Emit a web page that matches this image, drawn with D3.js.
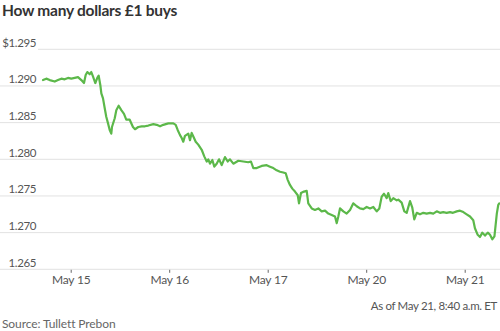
<!DOCTYPE html>
<html>
<head>
<meta charset="utf-8">
<script src="https://cdn.jsdelivr.net/npm/d3@7"></script>
<style>
  html, body { margin: 0; padding: 0; background: #fff; }
  svg { display: block; font-family: Lato, "Noto Sans", sans-serif; }
</style>
</head>
<body>
<svg id="chart" width="500" height="331"></svg>
<script>
// Trading-day index (0 = May 15, 1 = May 16, 2 = May 17, 3 = May 20, 4 = May 21)
const dayLabels = ["May 15", "May 16", "May 17", "May 20", "May 21"];
const yTicks = [1.265, 1.270, 1.275, 1.280, 1.285, 1.290, 1.295];

const times = [
  -0.281,-0.248,-0.213,-0.162,-0.129,-0.095,-0.061,-0.027,0.006,0.041,0.074,0.108,0.135,0.152,0.169,0.193,0.209,0.226,0.250,0.270,
  0.284,0.301,0.311,0.328,0.345,0.361,0.379,0.396,0.412,0.419,0.447,0.463,0.487,0.514,0.541,0.564,0.599,0.632,0.653,0.686,
  0.721,0.754,0.788,0.839,0.873,0.907,0.940,0.991,1.042,1.066,1.086,1.110,1.127,1.143,1.160,1.194,1.211,1.228,1.245,1.269,
  1.295,1.330,1.356,1.381,1.397,1.414,1.438,1.458,1.482,1.506,1.533,1.566,1.594,1.617,1.651,1.702,1.752,1.803,1.830,1.854,
  1.888,1.939,1.990,2.023,2.057,2.091,2.125,2.158,2.183,2.203,2.226,2.250,2.277,2.305,2.318,2.338,2.368,2.396,2.412,2.447,
  2.480,2.514,2.548,2.582,2.615,2.650,2.683,2.701,2.717,2.734,2.768,2.802,2.836,2.869,2.904,2.937,2.971,3.005,3.039,3.072,
  3.107,3.133,3.157,3.181,3.208,3.224,3.249,3.275,3.310,3.326,3.360,3.387,3.411,3.445,3.468,3.488,3.513,3.546,3.580,3.614,
  3.648,3.681,3.716,3.749,3.782,3.817,3.851,3.881,3.919,3.952,3.986,4.020,4.054,4.087,4.104,4.132,4.155,4.179,4.206,4.234,
  4.257,4.280,4.302,4.326,4.341,4.351
];
const rates = [
  1.2908,1.2910,1.2908,1.2906,1.2908,1.2910,1.2909,1.2911,1.2910,1.2911,1.2912,1.2908,1.2904,1.2915,1.2919,1.2916,1.2919,1.2913,1.2904,1.2911,
  1.2914,1.2901,1.2890,1.2883,1.2870,1.2858,1.2849,1.2840,1.2835,1.2844,1.2856,1.2867,1.2873,1.2867,1.2862,1.2854,1.2854,1.2844,1.2841,1.2844,
  1.2845,1.2845,1.2846,1.2848,1.2847,1.2845,1.2847,1.2849,1.2849,1.2847,1.2840,1.2833,1.2829,1.2824,1.2832,1.2835,1.2826,1.2836,1.2831,1.2824,
  1.2820,1.2813,1.2804,1.2797,1.2800,1.2794,1.2799,1.2790,1.2794,1.2800,1.2792,1.2803,1.2797,1.2800,1.2794,1.2798,1.2797,1.2796,1.2797,1.2788,
  1.2788,1.2791,1.2792,1.2790,1.2788,1.2785,1.2783,1.2782,1.2781,1.2772,1.2765,1.2760,1.2756,1.2751,1.2740,1.2754,1.2756,1.2757,1.2740,1.2733,
  1.2731,1.2733,1.2729,1.2730,1.2726,1.2724,1.2722,1.2713,1.2722,1.2733,1.2729,1.2726,1.2731,1.2740,1.2736,1.2733,1.2732,1.2735,1.2733,1.2735,
  1.2729,1.2733,1.2749,1.2753,1.2747,1.2754,1.2743,1.2747,1.2744,1.2745,1.2741,1.2729,1.2727,1.2743,1.2734,1.2718,1.2727,1.2725,1.2727,1.2726,
  1.2727,1.2726,1.2729,1.2727,1.2728,1.2727,1.2728,1.2727,1.2729,1.2730,1.2728,1.2725,1.2722,1.2717,1.2706,1.2697,1.2694,1.2700,1.2696,1.2700,
  1.2697,1.2691,1.2695,1.2726,1.2738,1.2740
];

const svg = d3.select("#chart");
const W = 500, H = 331;

const x = d3.scaleLinear().domain([0, 4]).range([70.7, 464.7]);
const y = d3.scaleLinear().domain([1.265, 1.295]).range([269.3, 49.3]);

// Title
svg.append("text")
  .attr("x", 2).attr("y", 16)
  .attr("font-size", 15.5).attr("font-weight", 700)
  .attr("letter-spacing", -0.25)
  .attr("fill", "#333")
  .text("How many dollars £1 buys");

// Gridlines + y labels
const grid = svg.append("g");
yTicks.forEach((v, i) => {
  const top = i === yTicks.length - 1;
  grid.append("line")
    .attr("x1", top ? 38 : 0).attr("x2", W)
    .attr("y1", y(v)).attr("y2", y(v))
    .attr("stroke", "#e2e2e2").attr("stroke-width", 1);
  grid.append("text")
    .attr("x", 36).attr("y", y(v) - 2.5)
    .attr("text-anchor", "end")
    .attr("font-size", 11.5).attr("letter-spacing", -0.4).attr("fill", "#555")
    .text(top ? "$" + d3.format(".3f")(v) : d3.format(".3f")(v));
});

// X axis
const xAxis = d3.axisBottom(x)
  .tickValues([0, 1, 2, 3, 4])
  .tickFormat((d, i) => dayLabels[i])
  .tickSize(3)
  .tickPadding(3);
const gx = svg.append("g")
  .attr("transform", `translate(0,${y(1.265) + 0.5})`)
  .call(xAxis);
gx.select(".domain").remove();
gx.selectAll(".tick line").attr("stroke", "#666");
gx.selectAll(".tick text")
  .attr("font-family", "Lato, 'Noto Sans', sans-serif")
  .attr("font-size", 12).attr("letter-spacing", -0.2).attr("fill", "#555");

// Line
const data = times.map((t, i) => ({ t, v: rates[i] }));
const line = d3.line().x(d => x(d.t)).y(d => y(d.v));
svg.append("path")
  .datum(data)
  .attr("d", line)
  .attr("fill", "none")
  .attr("stroke", "#5cb84a")
  .attr("stroke-width", 2.2)
  .attr("stroke-linejoin", "round")
  .attr("stroke-linecap", "round");

// Notes
svg.append("text")
  .attr("x", 497).attr("y", 309.5)
  .attr("text-anchor", "end")
  .attr("font-size", 11.5).attr("letter-spacing", -0.35).attr("fill", "#555")
  .text("As of May 21, 8:40 a.m. ET");

svg.append("text")
  .attr("x", 2).attr("y", 327.5)
  .attr("font-size", 12).attr("letter-spacing", -0.1).attr("fill", "#666")
  .text("Source: Tullett Prebon");
</script>
</body>
</html>
